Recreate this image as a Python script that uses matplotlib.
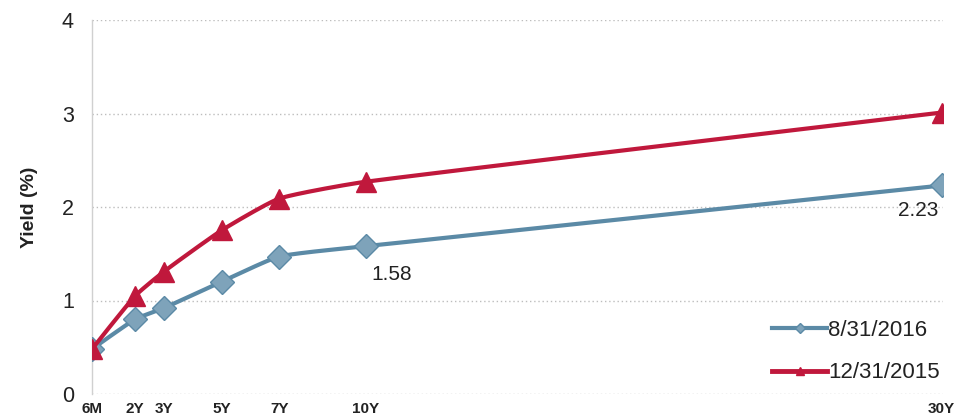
import numpy as np
import matplotlib
matplotlib.use("Agg")
import matplotlib.pyplot as plt
from matplotlib.lines import Line2D

plt.rcParams["font.family"] = ["Liberation Sans", "DejaVu Sans"]

# Maturities in years and their tick labels
maturities = [0.5, 2, 3, 5, 7, 10, 30]
tick_labels = ["6M", "2Y", "3Y", "5Y", "7Y", "10Y", "30Y"]

# Treasury yields (%)
yields_2016 = [0.48, 0.80, 0.92, 1.20, 1.47, 1.58, 2.23]
yields_2015 = [0.48, 1.05, 1.31, 1.75, 2.09, 2.27, 3.01]

label_2016 = "8/31/2016"
label_2015 = "12/31/2015"

blue = "#5b8aa6"
blue_fill = "#7ea3ba"
red = "#c0183c"

XLIM = (0.5, 30.05)
YLIM = (0, 4)
AX_W, AX_H = 851.0, 374.0  # axes size in pixels


def smooth(xs, ys, n=60, k=0.5):
    """Bezier smoothing through the points, computed in screen proportions."""
    sxp = AX_W / (XLIM[1] - XLIM[0])
    syp = AX_H / (YLIM[1] - YLIM[0])
    P = np.column_stack([np.asarray(xs, float) * sxp, np.asarray(ys, float) * syp])
    m = len(P)
    tang = np.zeros_like(P)
    for i in range(m):
        a = P[max(i - 1, 0)]
        b = P[min(i + 1, m - 1)]
        d = b - a
        tang[i] = d / np.linalg.norm(d)
    t = np.linspace(0, 1, n)[:, None]
    pts = []
    for i in range(m - 1):
        p0, p3 = P[i], P[i + 1]
        L = np.linalg.norm(p3 - p0)
        p1 = p0 + tang[i] * L * k / 3 if i > 0 else p0
        p2 = p3 - tang[i + 1] * L * k / 3 if i + 1 < m - 1 else p3
        seg = ((1 - t) ** 3 * p0 + 3 * (1 - t) ** 2 * t * p1
               + 3 * (1 - t) * t ** 2 * p2 + t ** 3 * p3)
        pts.append(seg)
    pts = np.vstack(pts)
    return pts[:, 0] / sxp, pts[:, 1] / syp


fig = plt.figure(figsize=(9.55, 4.18), dpi=100)
ax = fig.add_axes([92 / 955, 24 / 418, AX_W / 955, AX_H / 418])

# Smoothed curves with markers at the observed maturities
cx, cy = smooth(maturities, yields_2016)
ax.plot(cx, cy, color=blue, lw=3, zorder=3, solid_capstyle="round")
ax.plot(maturities, yields_2016, ls="none", marker="D", ms=12,
        markerfacecolor=blue_fill, markeredgecolor=blue, mew=1, zorder=4)

cx, cy = smooth(maturities, yields_2015)
ax.plot(cx, cy, color=red, lw=3, zorder=5, solid_capstyle="round")
ax.plot(maturities, yields_2015, ls="none", marker="^", ms=15,
        markerfacecolor=red, markeredgecolor=red, mew=1, zorder=6)

# Value labels
ax.text(maturities[5] + 0.9, yields_2016[5] - 0.3, f"{yields_2016[5]:.2f}",
        fontsize=15, color="#222222", ha="center", va="center")
ax.text(maturities[6] - 0.8, yields_2016[6] - 0.27, f"{yields_2016[6]:.2f}",
        fontsize=15, color="#222222", ha="center", va="center")

ax.set_xlim(*XLIM)
ax.set_ylim(*YLIM)
ax.set_yticks([0, 1, 2, 3, 4])
ax.set_xticks(maturities)
ax.set_xticklabels(tick_labels, fontweight="bold", fontsize=11, color="#222222")
ax.tick_params(axis="x", length=0, pad=6)
ax.tick_params(axis="y", length=0, pad=13, labelsize=15.5, labelcolor="#222222")

ax.grid(axis="y", color="#bdbdbd", ls=(0, (1, 2)), lw=1)
for s in ("top", "right", "bottom"):
    ax.spines[s].set_visible(False)
ax.spines["left"].set_color("#d0d0d0")
ax.spines["left"].set_linewidth(1)

ax.set_ylabel("Yield (%)", fontsize=14, fontweight="bold", color="#222222")
ax.yaxis.set_label_coords(-0.064, 0.5)

handles = [
    Line2D([], [], color=blue, lw=3, marker="D", ms=5,
           markerfacecolor=blue_fill, markeredgecolor=blue),
    Line2D([], [], color=red, lw=3.5, marker="^", ms=6,
           markerfacecolor=red, markeredgecolor=red),
]
ax.legend(handles, [label_2016, label_2015], loc="lower right",
          bbox_to_anchor=(1.02, -0.025), frameon=False, fontsize=16,
          handlelength=2.5, handletextpad=0.05, labelspacing=0.95,
          labelcolor="#222222")

fig.savefig("out.png", dpi=100, facecolor="white")
